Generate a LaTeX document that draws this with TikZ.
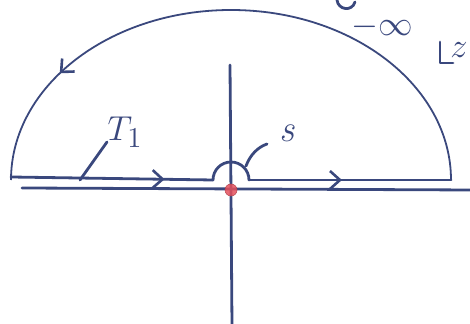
\documentclass[tikz,border=0pt]{standalone}
\usetikzlibrary{decorations.markings,arrows.meta}
\definecolor{ink}{RGB}{58,72,125}
\definecolor{dotred}{RGB}{228,80,92}
\tikzset{
  pen/.style={draw=ink,line width=1.4pt,line cap=round,line join=round},
  thinpen/.style={draw=ink,line width=0.9pt,line cap=round},
  lbl/.style={text=ink,font=\fontsize{19}{22}\selectfont\itshape,inner sep=0pt},
  tipmark/.style={postaction={decorate},decoration={markings,
     mark=at position #1 with {\arrow{Straight Barb[length=5pt,width=9pt,line width=1.3pt]}}}}
}
\begin{document}
\begin{tikzpicture}[x=0.5pt,y=-0.5pt]
\useasboundingbox (0,0) rectangle (470,324);
% axes
\coordinate (axL) at (22,188);
\coordinate (axR) at (472,190);
\coordinate (axT) at (230,65);
\coordinate (axB) at (232,326);
\draw[pen] (axL) -- (axR);
\draw[pen] (axT) -- (axB);
% contour
\coordinate (L) at (11,177);
\coordinate (I1) at (213,180);
\coordinate (I2) at (249,180);
\coordinate (R) at (451,180);
\draw[pen,tipmark=0.76] (L) -- (I1);
\draw[pen] (I1) arc[start angle=180,end angle=360,radius=18];
\draw[pen,tipmark=0.46] (I2) -- (R);
\draw[thinpen,tipmark=0.80] (R) arc[start angle=0,end angle=-180,x radius=220,y radius=170] -- (L);
% origin dot
\node[circle,fill=dotred,draw=dotred!80!black,line width=0.3pt,minimum size=6pt,inner sep=0pt,opacity=0.85] (O) at (231,190) {};
% labels
\node[lbl] (T1) at (125,132) {$T_{\mathrm{1}}$};
\coordinate (t1a) at (80,180);
\coordinate (t1b) at (107,142);
\draw[pen] (t1a) -- (t1b);
\node[lbl] (S) at (287,133) {s};
\coordinate (sa) at (246,166);
\coordinate (sb) at (267,144);
\draw[pen] (sa) .. controls (250,155) and (258,147) .. (sb);
% top (partly cut off) text
\node[lbl] (inf) at (382,27) {$-\infty$};
\draw[pen] (337,0) .. controls (338,10) and (352,12) .. (355,2);
% plane label
\coordinate (za) at (440,42);
\coordinate (zb) at (440,63);
\coordinate (zc) at (453,63);
\draw[pen] (za) -- (zb) -- (zc);
\node[lbl] (Z) at (459,50) {$z$};
\end{tikzpicture}
\end{document}
